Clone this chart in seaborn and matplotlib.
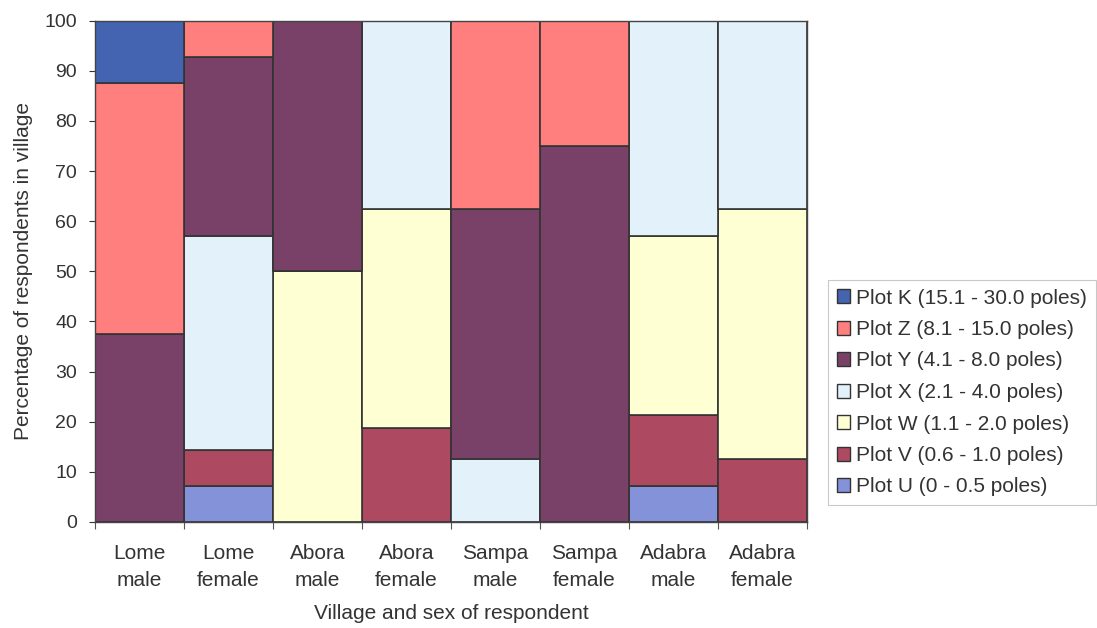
import matplotlib
matplotlib.use("Agg")
import matplotlib.pyplot as plt
from matplotlib.patches import Patch
from matplotlib.ticker import FixedLocator
import numpy as np
import seaborn as sns

categories = ["Lome\nmale", "Lome\nfemale", "Abora\nmale", "Abora\nfemale",
              "Sampa\nmale", "Sampa\nfemale", "Adabra\nmale", "Adabra\nfemale"]

# stacked from the bottom: U, V, W, X, Y, Z, K
plot_u = [0, 7.1, 0, 0, 0, 0, 7.1, 0]
plot_v = [0, 7.2, 0, 18.75, 0, 0, 14.3, 12.5]
plot_w = [0, 0, 50, 43.75, 0, 0, 35.7, 50]
plot_x = [0, 42.8, 0, 37.5, 12.5, 0, 42.9, 37.5]
plot_y = [37.5, 35.7, 50, 0, 50, 75, 0, 0]
plot_z = [50, 7.1, 0, 0, 37.5, 25, 0, 0]
plot_k = [12.5, 0, 0, 0, 0, 0, 0, 0]

series_labels = ["Plot U (0 - 0.5 poles)", "Plot V (0.6 - 1.0 poles)",
                 "Plot W (1.1 - 2.0 poles)", "Plot X (2.1 - 4.0 poles)",
                 "Plot Y (4.1 - 8.0 poles)", "Plot Z (8.1 - 15.0 poles)",
                 "Plot K (15.1 - 30.0 poles)"]
series_values = [plot_u, plot_v, plot_w, plot_x, plot_y, plot_z, plot_k]
colors = ["#8492da", "#ad4a62", "#ffffd4", "#e2f1fa", "#7a4168", "#ff7e7e", "#4463b0"]

sns.set_style("white")
plt.rcParams["font.family"] = ["Liberation Sans", "DejaVu Sans"]
TXT = "#333333"

fig = plt.figure(figsize=(10.97, 6.28), dpi=100)
ax = fig.add_axes([0.0866, 0.169, 0.649, 0.798])

bottom = np.zeros(len(categories))
for vals, col in zip(series_values, colors):
    sns.barplot(x=categories, y=vals, bottom=bottom, color=col, width=1.0,
                edgecolor="#333333", linewidth=1.2, saturation=1, ax=ax)
    bottom = bottom + np.array(vals)

ax.set_xlim(-0.5, len(categories) - 0.5)
ax.set_ylim(0, 100)
ax.set_yticks(range(0, 101, 10))
ax.tick_params(axis="y", labelsize=14, colors=TXT, direction="out",
               length=4, left=True, width=0.8, pad=9)
ax.tick_params(axis="x", labelsize=15, colors=TXT, length=0, pad=16)
for lab in ax.get_xticklabels():
    lab.set_linespacing(1.55)
ax.xaxis.set_minor_locator(FixedLocator(np.arange(-0.5, len(categories), 1)))
ax.tick_params(axis="x", which="minor", bottom=True, length=5, width=0.8, color="#555555")
for sp in ax.spines.values():
    sp.set_color("#444444")
    sp.set_linewidth(1.0)

ax.set_ylabel("Percentage of respondents in village", fontsize=15, color=TXT, labelpad=8)
ax.set_xlabel("Village and sex of respondent", fontsize=15, color=TXT, labelpad=10)

handles = [Patch(facecolor=c, edgecolor="#333333", label=l)
           for c, l in zip(colors, series_labels)][::-1]
leg = fig.legend(handles=handles, loc="center left", bbox_to_anchor=(0.755, 0.375),
                 fontsize=15, frameon=True, fancybox=False, handlelength=0.65,
                 handleheight=0.65, handletextpad=0.3, labelspacing=0.6,
                 borderpad=0.4, borderaxespad=0.0, labelcolor=TXT)
leg.get_frame().set_edgecolor("#bbbbbb")
leg.get_frame().set_linewidth(0.8)

fig.savefig("out.png", dpi=100)
